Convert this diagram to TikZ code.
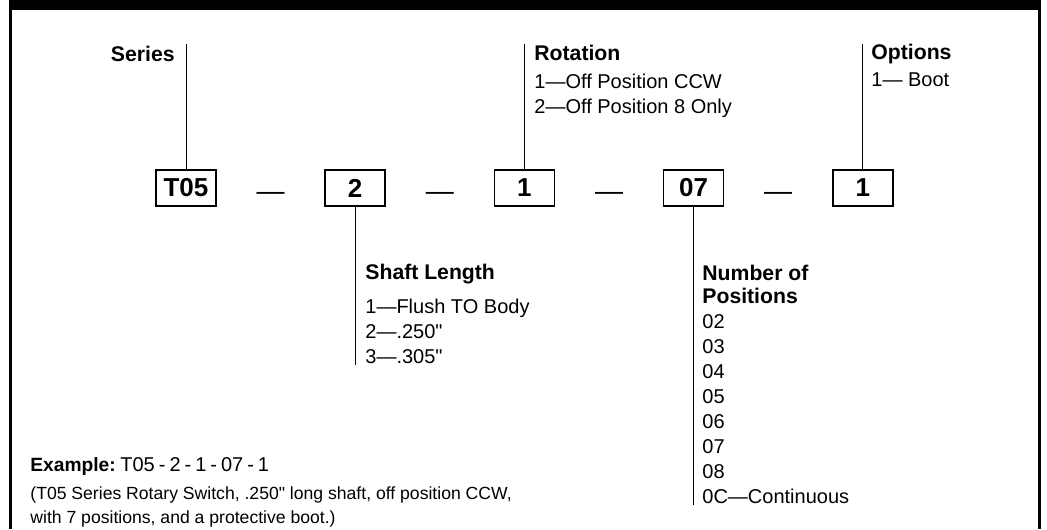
\documentclass[tikz,border=0pt]{standalone}
\usepackage{fontspec}
\setmainfont{Liberation Sans}
\usetikzlibrary{positioning}

\begin{document}
\begin{tikzpicture}[
			x=0.5pt, y=-0.5pt,
			field/.style={draw, line width=0.8pt, minimum width=30pt, minimum height=18pt, inner sep=0pt, font=\fontsize{13}{13}\selectfont\bfseries},
			sep/.style={inner sep=0pt, font=\fontsize{14}{14}\selectfont},
			head/.style={anchor=base west, inner sep=0pt, font=\fontsize{10.6}{11.5}\selectfont\bfseries},
			item/.style={anchor=base west, inner sep=0pt, font=\fontsize{10}{12.5}\selectfont},
			lead/.style={line width=0.5pt},
			node distance=19.7pt
			]
			
			% ---------------- FRAME ----------------
			\useasboundingbox (0,0) rectangle (1047,529);
			\fill (9,0) rectangle (1041,10);
			\fill (9,0) rectangle (12,529);
			\fill (1038,0) rectangle (1041,529);
			
			% ---------------- CODE FIELDS ----------------
			\node[field] (series) at (186,188) {T05};
			\node[sep, right=of series] (d1) {\raisebox{-4pt}[\height][\depth]{—}};
			\node[field, right=of d1] (shaft) {2};
			\node[sep, right=of shaft] (d2) {\raisebox{-4pt}[\height][\depth]{—}};
			\node[field, right=of d2] (rot) {1};
			\node[sep, right=of rot] (d3) {\raisebox{-4pt}[\height][\depth]{—}};
			\node[field, right=of d3] (pos) {07};
			\node[sep, right=of pos] (d4) {\raisebox{-4pt}[\height][\depth]{—}};
			\node[field, right=of d4] (opt) {1};
			
			% ---------------- LEADERS ----------------
			\coordinate (top) at (0,44);
			\coordinate (shaftEnd) at (0,365);
			\coordinate (posEnd) at (0,505);
			\draw[lead] (series.north) -- (series.north |- top);
			\draw[lead] (rot.north) -- (rot.north |- top);
			\draw[lead] (opt.north) -- (opt.north |- top);
			\draw[lead] (shaft.south) -- (shaft.south |- shaftEnd);
			\draw[lead] (pos.south) -- (pos.south |- posEnd);
			
			% ---------------- LABELS ABOVE ----------------
			\node[head, anchor=base east] (seriesHead) at (175,62) {Series};
			\node[head] (rotHead) at (534,61) {Rotation};
			\node[item] (rotList) at (534,89) {\begin{tabular}[t]{@{}l@{}}1—Off Position CCW\\2—Off Position 8 Only\end{tabular}};
			\node[head] (optHead) at (871,60) {Options};
			\node[item] (optList) at (871,87) {1— Boot};
			
			% ---------------- LABELS BELOW ----------------
			\node[head] (shaftHead) at (365,279) {Shaft Length};
			\node[item] (shaftList) at (365,313) {\begin{tabular}[t]{@{}l@{}}1—Flush TO Body\\2—.250\textquotedbl\\3—.305\textquotedbl\end{tabular}};
			\node[head] (posHead) at (702,280) {\begin{tabular}[t]{@{}l@{}}Number of\\Positions\end{tabular}};
			\node[item] (posList) at (702,328) {\begin{tabular}[t]{@{}l@{}}02\\03\\04\\05\\06\\07\\08\\0C—Continuous\end{tabular}};
			
			% ---------------- EXAMPLE ----------------
			\node[head, font=\fontsize{9.6}{12}\selectfont\bfseries] (exHead) at (30,471) {Example:};
			\node[item] (exCode) at (120,471) {T05\kern2pt-\kern2pt2\kern2pt-\kern2pt1\kern2pt-\kern2pt07\kern2pt-\kern2pt1};
			\node[item, font=\fontsize{8.8}{12}\selectfont] (exNote) at (30,499) {\begin{tabular}[t]{@{}l@{}}(T05 Series Rotary Switch, .250\textquotedbl{} long shaft, off position CCW,\\with 7 positions, and a protective boot.)\end{tabular}};
			
		\end{tikzpicture}
\end{document}
